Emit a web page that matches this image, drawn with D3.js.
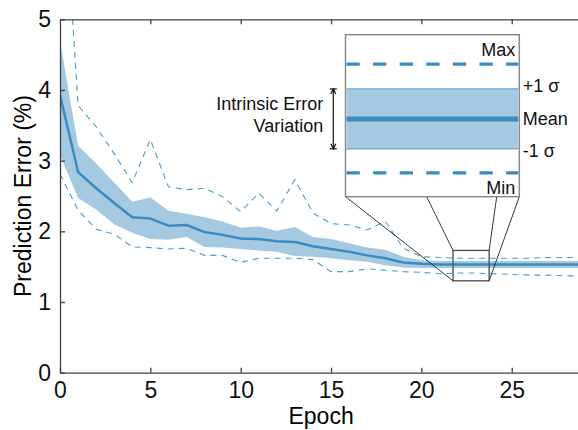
<!DOCTYPE html>
<html>
<head>
<meta charset="utf-8">
<script src="https://cdn.jsdelivr.net/npm/d3@7"></script>
<style>
  body { margin: 0; background: #fff; }
  svg { display: block; font-family: "Liberation Sans", Arial, Helvetica, sans-serif; }
  .axis path, .axis line { stroke: #404040; stroke-width: 1.3; }
  .axis text { font-size: 23px; fill: #111; font-family: "Liberation Sans", Arial, sans-serif; }
</style>
</head>
<body>
<svg id="chart" width="578" height="430"></svg>
<script>
// data
const epochs   = [0,1,2,3,4,5,6,7,8,9,10,11,12,13,14,15,16,17,18,19,20,21,22,23,24,25,26,27,28,29];
const meanErr  = [3.93,2.84,2.61,2.40,2.20,2.18,2.08,2.09,1.99,1.95,1.90,1.89,1.86,1.85,1.79,1.75,1.71,1.66,1.62,1.56,1.54,1.53,1.53,1.53,1.53,1.53,1.53,1.53,1.53,1.53];
const upperErr = [4.70,3.21,2.96,2.69,2.42,2.48,2.29,2.25,2.20,2.14,2.05,2.07,2.01,2.06,1.92,1.89,1.83,1.77,1.74,1.64,1.59,1.58,1.58,1.58,1.58,1.58,1.58,1.58,1.58,1.58];
const lowerErr = [3.08,2.47,2.31,2.10,1.98,1.89,1.88,1.92,1.78,1.77,1.75,1.73,1.71,1.65,1.64,1.62,1.59,1.57,1.52,1.49,1.48,1.48,1.48,1.48,1.48,1.48,1.48,1.48,1.48,1.48];
const maxErr   = [7.80,3.78,3.48,3.10,2.69,3.30,2.63,2.59,2.61,2.49,2.28,2.54,2.29,2.73,2.26,2.11,2.09,2.02,2.14,1.76,1.64,1.63,1.62,1.62,1.62,1.62,1.62,1.63,1.63,1.63];
const minErr   = [2.81,2.30,2.03,1.96,1.78,1.77,1.75,1.76,1.66,1.66,1.56,1.62,1.62,1.62,1.60,1.43,1.43,1.47,1.45,1.43,1.42,1.40,1.41,1.41,1.40,1.39,1.38,1.38,1.37,1.37];

const xTicks = [0,5,10,15,20,25];
const yTicks = [0,1,2,3,4,5];

// zoomed window and the levels shown in the inset
const zoomEpochs = [21.75, 23.75];
const zoomErr    = [1.30, 1.73];
const insetLevels = [
  {name: "Max",  value: 1.652},
  {name: "+1 σ", value: 1.586},
  {name: "Mean", value: 1.506},
  {name: "-1 σ", value: 1.427},
  {name: "Min",  value: 1.363}
];

const bandColor = "#a6c9e2",
      lineColor = "#3b8bc0",
      dashColor = "#4b9bcd";

let svg = d3.select("#chart");
let margin = {top: 19.3, left: 60},
    width = 524,
    height = 353.4;

let x = d3.scaleLinear().domain([0, 29]).range([0, width]);
let y = d3.scaleLinear().domain([0, 5]).range([height, 0]);

svg.append("defs").append("clipPath")
    .attr("id", "clip")
    .append("rect")
    .attr("width", width)
    .attr("height", height);

let g = svg.append("g")
    .attr("transform", "translate(" + margin.left + "," + margin.top + ")");

let plot = g.append("g").attr("clip-path", "url(#clip)");

let rows = epochs.map((e, i) => ({
    e: e, mean: meanErr[i], up: upperErr[i], lo: lowerErr[i], max: maxErr[i], min: minErr[i]
}));

plot.append("path")
    .datum(rows)
    .attr("fill", bandColor)
    .attr("d", d3.area().x(d => x(d.e)).y0(d => y(d.lo)).y1(d => y(d.up)));

["max", "min"].forEach(k => {
    plot.append("path")
        .datum(rows)
        .attr("fill", "none")
        .attr("stroke", dashColor)
        .attr("stroke-width", 1.1)
        .attr("stroke-dasharray", "6,5")
        .attr("d", d3.line().x(d => x(d.e)).y(d => y(d[k])));
});

plot.append("path")
    .datum(rows)
    .attr("fill", "none")
    .attr("stroke", lineColor)
    .attr("stroke-width", 2.5)
    .attr("stroke-linejoin", "round")
    .attr("d", d3.line().x(d => x(d.e)).y(d => y(d.mean)));

// axes
g.append("g")
    .attr("class", "axis")
    .attr("transform", "translate(0," + height + ")")
    .call(d3.axisBottom(x).tickValues(xTicks).tickSizeInner(-5).tickSizeOuter(0).tickPadding(9));

g.append("g")
    .attr("class", "axis")
    .call(d3.axisTop(x).tickValues(xTicks.slice(1)).tickSizeInner(-5).tickSizeOuter(0).tickFormat(""));

g.append("g")
    .attr("class", "axis")
    .call(d3.axisLeft(y).tickValues(yTicks).tickFormat(d3.format("d"))
        .tickSizeInner(-5).tickSizeOuter(0).tickPadding(9));

g.append("text")
    .attr("x", x(14.45))
    .attr("y", height + 51)
    .attr("text-anchor", "middle")
    .attr("font-size", 23)
    .text("Epoch");

g.append("text")
    .attr("transform", "translate(-29," + (height / 2) + ") rotate(-90)")
    .attr("text-anchor", "middle")
    .attr("font-size", 23)
    .text("Prediction Error (%)");

// zoom box
let bx0 = x(zoomEpochs[0]), bx1 = x(zoomEpochs[1]),
    by0 = y(zoomErr[1]), by1 = y(zoomErr[0]);

g.append("rect")
    .attr("x", bx0).attr("y", by0)
    .attr("width", bx1 - bx0).attr("height", by1 - by0)
    .attr("fill", "none")
    .attr("stroke", "#555")
    .attr("stroke-width", 1.4);

// inset, in page coordinates
let inset = {x0: 345.5, x1: 519.3, y0: 34.7, y1: 196.7};
let iy = d3.scaleLinear().domain(zoomErr).range([inset.y1, inset.y0]);
let iw = inset.x1 - inset.x0;

let connectors = [
    [inset.x0, bx0, by1],
    [inset.x0 + iw * 0.467, bx0, by0],
    [inset.x0 + iw * 0.87, bx1, by0],
    [inset.x1, bx1, by1]
];
connectors.forEach(c => {
    svg.append("line")
        .attr("x1", c[0]).attr("y1", inset.y1)
        .attr("x2", c[1] + margin.left).attr("y2", c[2] + margin.top)
        .attr("stroke", "#222")
        .attr("stroke-width", 0.9);
});

let ins = svg.append("g");
ins.append("rect")
    .attr("x", inset.x0).attr("y", inset.y0)
    .attr("width", iw).attr("height", inset.y1 - inset.y0)
    .attr("fill", "#fff")
    .attr("stroke", "#8a8a8a")
    .attr("stroke-width", 1.5);

let lv = {};
insetLevels.forEach(d => { lv[d.name] = iy(d.value); });

ins.append("rect")
    .attr("x", inset.x0 + 1).attr("y", lv["+1 σ"])
    .attr("width", iw - 2).attr("height", lv["-1 σ"] - lv["+1 σ"])
    .attr("fill", bandColor);

["+1 σ", "-1 σ"].forEach(k => {
    ins.append("line")
        .attr("x1", inset.x0 + 1).attr("x2", inset.x1 - 1)
        .attr("y1", lv[k]).attr("y2", lv[k])
        .attr("stroke", "#69a7d1").attr("stroke-width", 1.2);
});

ins.append("line")
    .attr("x1", inset.x0 + 1).attr("x2", inset.x1 - 1)
    .attr("y1", lv["Mean"]).attr("y2", lv["Mean"])
    .attr("stroke", lineColor).attr("stroke-width", 5);

["Max", "Min"].forEach(k => {
    ins.append("line")
        .attr("x1", inset.x0 + 1).attr("x2", inset.x1 - 1)
        .attr("y1", lv[k]).attr("y2", lv[k])
        .attr("stroke", lineColor).attr("stroke-width", 3.3)
        .attr("stroke-dasharray", "13.3,13.3");
});

let labelStyle = sel => sel.attr("font-size", 18).attr("fill", "#111");

ins.append("text").call(labelStyle)
    .attr("x", inset.x1 - 4).attr("y", inset.y0 + 21.5)
    .attr("text-anchor", "end").text("Max");
ins.append("text").call(labelStyle)
    .attr("x", inset.x1 - 4).attr("y", inset.y1 - 2.5)
    .attr("text-anchor", "end").text("Min");

[["+1 σ", 3.5], ["Mean", 6], ["-1 σ", 8]].forEach(p => {
    ins.append("text").call(labelStyle)
        .attr("x", inset.x1 + 3.5).attr("y", lv[p[0]] + p[1])
        .text(p[0]);
});

// intrinsic error arrow
let ax = 333.3, aTop = lv["+1 σ"], aBot = lv["-1 σ"];
ins.append("line")
    .attr("x1", ax).attr("x2", ax).attr("y1", aTop).attr("y2", aBot)
    .attr("stroke", "#111").attr("stroke-width", 1.2);
[aTop, aBot].forEach((yy, i) => {
    ins.append("line")
        .attr("x1", ax - 3.5).attr("x2", ax + 3.5).attr("y1", yy).attr("y2", yy)
        .attr("stroke", "#111").attr("stroke-width", 1.2);
    let s = i === 0 ? 1 : -1;
    ins.append("path")
        .attr("d", "M" + (ax - 2.5) + "," + (yy + s * 5) + " L" + ax + "," + yy + " L" + (ax + 2.5) + "," + (yy + s * 5))
        .attr("fill", "none").attr("stroke", "#111").attr("stroke-width", 1.2);
});

ins.append("text").call(labelStyle)
    .attr("x", 323.3).attr("y", lv["Mean"] - 9)
    .attr("text-anchor", "end").text("Intrinsic Error");
ins.append("text").call(labelStyle)
    .attr("x", 323.3).attr("y", lv["Mean"] + 12.7)
    .attr("text-anchor", "end").text("Variation");
</script>
</body>
</html>
